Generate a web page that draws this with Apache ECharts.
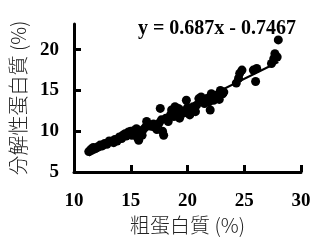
<!DOCTYPE html>
<html><head><meta charset="utf-8">
<script src="https://cdn.jsdelivr.net/npm/echarts@6/dist/echarts.min.js"></script>
<style>html,body{margin:0;padding:0;background:#fff}#c{width:321px;height:246px}</style>
</head><body><div id="c"></div>
<script>
const crudeProtein = [11.3,11.5,11.7,11.9,12.1,12.3,12.5,12.7,12.9,13.1,13.3,13.5,13.6,13.8,14.0,14.2,14.3,14.5,14.6,14.8,14.9,15.0,15.1,15.2,15.3,15.4,15.5,15.6,15.7,15.8,15.9,16.0,16.1,16.3,16.4,16.6,16.8,17.0,17.1,17.3,17.5,17.6,17.7,17.8,17.9,18.1,18.3,18.5,18.6,18.8,18.9,19.1,19.2,19.3,19.5,19.6,19.9,20.0,20.1,20.2,20.4,20.5,20.7,20.8,21.0,21.2,21.4,21.5,21.7,21.9,22.0,22.1,22.3,22.5,22.6,22.8,22.9,23.1,23.2,24.3,24.5,24.6,24.8,25.8,26.1,26.0,27.4,27.6,27.7,27.9,28.0];
const degradableProtein = [7.5,7.8,8.0,7.9,8.1,8.3,8.2,8.5,8.4,8.8,8.7,8.6,9.0,8.8,9.3,9.1,9.5,9.7,9.4,9.9,9.6,10.0,9.5,9.8,10.1,9.7,10.3,9.2,8.9,9.7,10.0,9.5,10.2,10.5,11.2,10.8,10.6,10.9,10.5,10.2,11.0,12.8,11.4,10.0,9.5,11.6,11.2,12.0,12.6,11.8,13.0,12.4,12.8,11.6,12.5,12.2,13.8,12.9,12.6,12.0,12.5,13.0,12.4,13.2,14.0,14.2,13.8,13.4,14.0,13.6,12.6,14.6,13.8,14.4,14.2,13.9,15.0,14.6,14.8,15.9,16.5,17.1,17.5,17.5,17.7,16.1,18.3,18.9,19.5,19.1,21.2];
const xTicks = [10,15,20,25,30];
const yTicks = [5,10,15,20];
const slope = 0.687, intercept = -0.7467;
const fitRangeX = [11.3, 28.0];
const equationText = 'y = 0.687x - 0.7467';
const xName = '粗蛋白質 (%)';
const yName = '分解性蛋白質 (%)';

const pts = crudeProtein.map((x,i)=>[x, degradableProtein[i]]);
const fit = fitRangeX.map(x=>[x, slope*x+intercept]);
const chart = echarts.init(document.getElementById('c'));
const axisCommon = {
  axisLine:{show:true,lineStyle:{color:'#000',width:3}},
  axisTick:{show:true,inside:true,length:7,lineStyle:{color:'#000',width:3}},
  splitLine:{show:false},
  nameLocation:'middle',
  nameTextStyle:{fontFamily:'Noto Sans CJK TC',fontSize:20,color:'#222',fontWeight:300},
};
chart.setOption({
  animation:false,
  grid:{left:74,right:20,top:24,bottom:74},
  title:{text:equationText,right:20,top:14,textStyle:{fontFamily:'Liberation Serif',fontWeight:'bold',fontSize:20,color:'#000'}},
  xAxis:Object.assign({},axisCommon,{type:'value',min:10,max:30,interval:5,name:xName,nameGap:39,
    axisTick:Object.assign({},axisCommon.axisTick,{customValues:xTicks}),
    axisLabel:{customValues:xTicks,margin:20,fontFamily:'Liberation Serif',fontWeight:'bold',fontSize:19,color:'#000'}}),
  yAxis:Object.assign({},axisCommon,{type:'value',min:5,max:23.15,name:yName,nameGap:46,
    axisTick:Object.assign({},axisCommon.axisTick,{customValues:yTicks}),
    axisLabel:{customValues:yTicks,margin:15,fontFamily:'Liberation Serif',fontWeight:'bold',fontSize:19,color:'#000'}}),
  series:[
    {type:'scatter',data:pts,symbolSize:9,itemStyle:{color:'#000',opacity:1}},
    {type:'line',data:fit,symbol:'none',lineStyle:{color:'#000',width:2},z:3}
  ]
});
</script></body></html>
